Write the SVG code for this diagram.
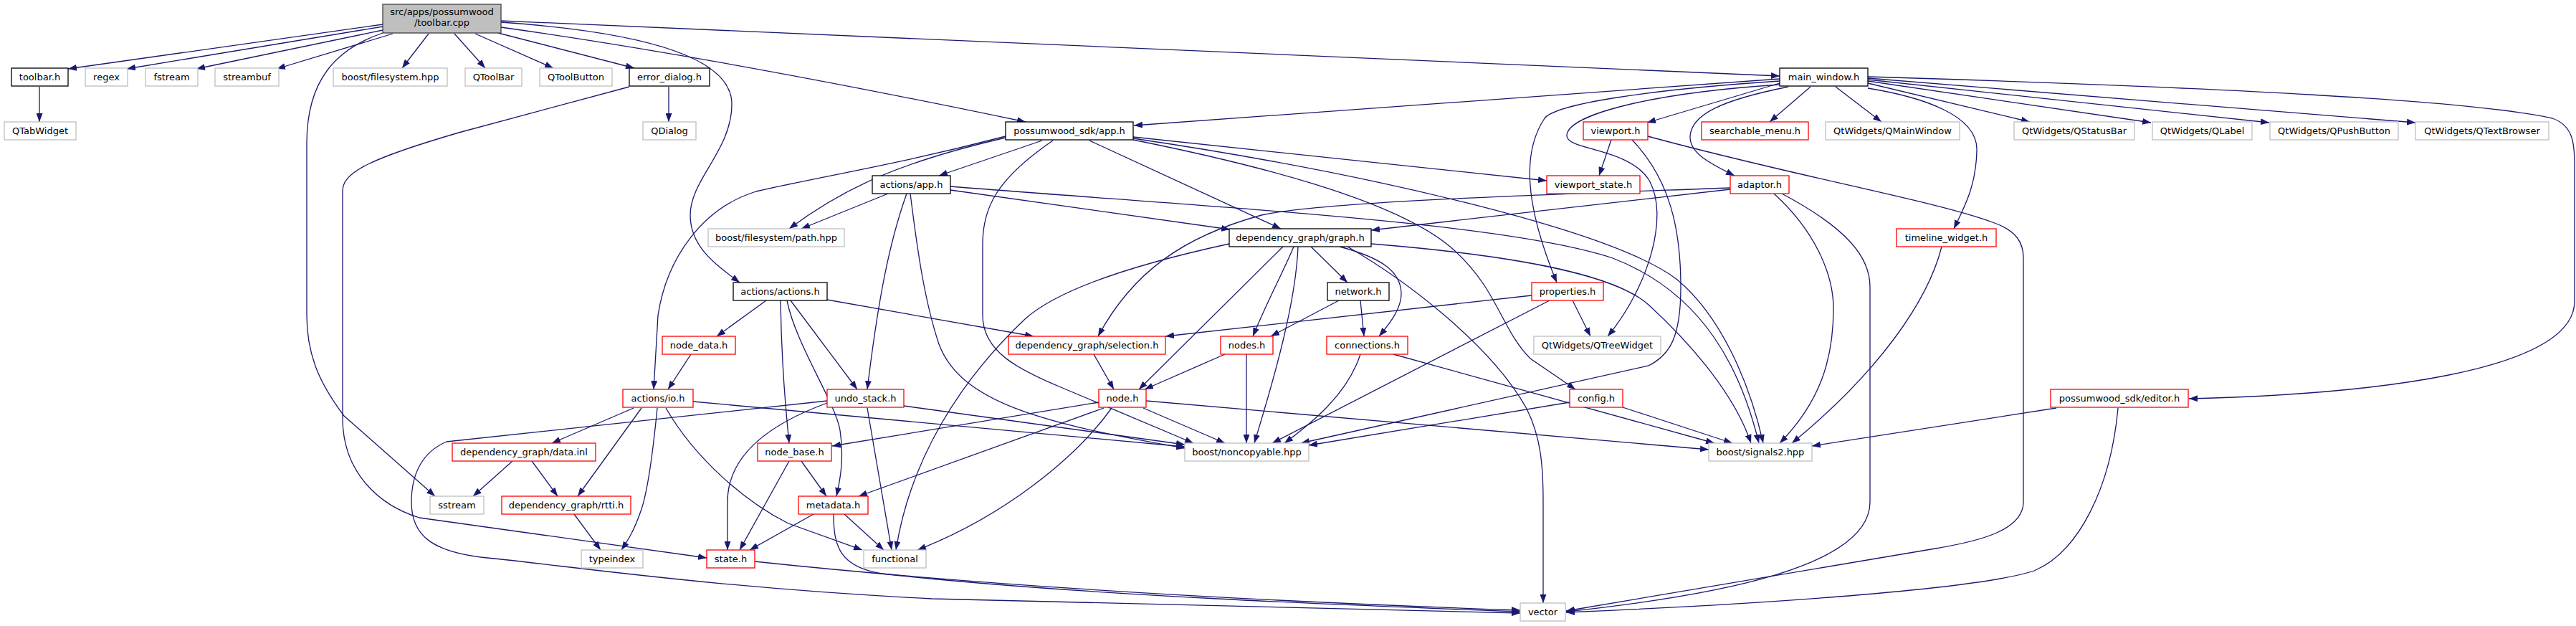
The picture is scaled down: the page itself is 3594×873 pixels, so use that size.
<svg xmlns="http://www.w3.org/2000/svg" width="3594" height="873" viewBox="0 0 3594 873">
<defs>
<marker id="a" markerUnits="userSpaceOnUse" markerWidth="12" markerHeight="9" refX="12" refY="4.5" orient="auto"><path d="M0,0 L12,4.5 L0,9 z" fill="#191970"/></marker>
<style>
rect{fill:#fff;stroke-width:1.3}
.b rect{stroke:#000}
.r rect{stroke:#ff0000}
.g rect{stroke:#bfbfbf}
.root rect{fill:#bfbfbf;stroke:#404040}
text{font-family:"DejaVu Sans","Liberation Sans",sans-serif;font-size:13px;text-anchor:middle;fill:#000}
#edges path{fill:none;stroke:#191970;stroke-width:1.3;marker-end:url(#a)}
</style>
</defs>
<rect x="0" y="0" width="3594" height="873" style="fill:#fff;stroke:none"/>
<g id="edges">
<path d="M534,34 L95,96"/>
<path d="M534,37 L177,96"/>
<path d="M534,42 L274,96"/>
<path d="M548,47 L386,96"/>
<path d="M598,47 L561,95"/>
<path d="M634,47 L677,95"/>
<path d="M663,47 L772,95"/>
<path d="M695,46 L885,95"/>
<path d="M699,29 L2483,106"/>
<path d="M699,38 Q1000,80 1431,170"/>
<path d="M699,31 C900,45 1021,80 1021,145 C1021,210 963,250 963,300 C963,345 1000,370 1032,394"/>
<path d="M534,46 C470,68 428,110 428,200 L428,440 C428,500 450,540 480,580 L607,692"/>
<path d="M55,121 L55,170"/>
<path d="M933,121 L933,170"/>
<path d="M878,121 L640,185 C520,220 478,240 478,265 L478,583 C478,660 530,705 585,722 L986,778"/>
<path d="M2483,110 L1582,175"/>
<path d="M2483,113 C2300,125 2170,145 2155,165 C2125,210 2125,280 2172,394"/>
<path d="M2483,116 L2298,171"/>
<path d="M2495,121 C2400,140 2360,160 2358,190 C2357,215 2390,230 2420,245"/>
<path d="M2526,121 L2469,170"/>
<path d="M2561,121 L2625,170"/>
<path d="M2606,116 L2832,170"/>
<path d="M2606,113 L3001,171"/>
<path d="M2606,111 L3166,171"/>
<path d="M2606,109 L3370,171"/>
<path d="M2606,123 C2680,135 2760,160 2758,210 C2757,260 2740,290 2726,319"/>
<path d="M2606,107 C3100,122 3450,140 3561,165 C3590,175 3592,200 3592,230 L3592,420 C3592,520 3300,550 3054,556"/>
<path d="M2483,118 C2300,130 2190,160 2186,188 C2183,210 2270,205 2300,250 C2330,300 2300,400 2243,469"/>
<path d="M1454,196 L1310,245"/>
<path d="M1403,192 C1260,225 1180,260 1101,319"/>
<path d="M1403,190 C1250,230 1150,245 1055,267 C980,290 930,360 918,440 L912,543"/>
<path d="M1469,196 C1390,250 1371,290 1371,340 L1371,440 C1371,490 1420,515 1480,540 L1665,618"/>
<path d="M1520,196 L1787,319"/>
<path d="M1581,191 L2158,252"/>
<path d="M1581,193 C1900,240 2250,320 2340,390 C2400,440 2440,530 2460,618"/>
<path d="M1581,195 C1780,235 1960,285 2030,350 C2090,405 2095,460 2135,500 L2198,543"/>
<path d="M1239,270 L1118,319"/>
<path d="M1265,270 C1240,340 1225,420 1210,543"/>
<path d="M1270,270 C1280,350 1290,420 1310,480 C1340,560 1450,590 1653,625"/>
<path d="M1326,260 C1700,290 2100,310 2250,360 C2380,410 2430,520 2454,618"/>
<path d="M1326,265 L1716,320"/>
<path d="M2248,195 L2231,245"/>
<path d="M2277,195 C2330,250 2345,320 2345,400 C2345,470 2330,495 2300,510 L1815,618"/>
<path d="M2299,190 C2500,245 2700,280 2780,310 C2815,322 2823,340 2823,360 L2823,700 C2823,740 2760,755 2700,765 L2185,852"/>
<path d="M2414,262 C2200,270 1850,280 1760,300 C1650,330 1580,380 1532,469"/>
<path d="M2414,264 L1913,321"/>
<path d="M2475,270 C2530,320 2558,380 2558,430 C2558,500 2540,560 2483,618"/>
<path d="M2486,270 C2580,320 2609,360 2609,400 L2609,700 C2609,790 2400,830 2185,853"/>
<path d="M1829,344 L1880,394"/>
<path d="M1805,344 C1790,380 1768,420 1748,469"/>
<path d="M1869,344 C1930,360 1955,380 1955,410 C1955,430 1940,450 1924,469"/>
<path d="M1790,344 L1589,543"/>
<path d="M1811,344 C1808,420 1780,520 1750,618"/>
<path d="M1913,340 C2100,355 2250,380 2300,425 C2360,480 2420,550 2443,618"/>
<path d="M1880,344 C1960,390 2080,480 2130,570 C2150,610 2153,650 2153,700 L2153,841"/>
<path d="M1715,340 C1600,365 1480,400 1430,445 C1340,530 1270,640 1250,767"/>
<path d="M2709,344 C2690,420 2620,520 2500,618"/>
<path d="M1069,419 L1000,469"/>
<path d="M1089,419 C1090,500 1095,560 1101,618"/>
<path d="M1098,419 C1110,480 1165,560 1172,600 C1178,640 1172,670 1167,692"/>
<path d="M1103,419 L1196,543"/>
<path d="M1154,418 L1442,469"/>
<path d="M1868,419 L1773,469"/>
<path d="M1898,419 L1903,469"/>
<path d="M2137,412 L1626,469"/>
<path d="M2194,419 L2219,469"/>
<path d="M2162,419 L1775,618"/>
<path d="M964,494 L932,543"/>
<path d="M1526,494 L1554,543"/>
<path d="M1709,494 L1597,543"/>
<path d="M1739,494 L1739,618"/>
<path d="M1898,494 C1880,550 1830,590 1792,618"/>
<path d="M1944,494 L2392,618"/>
<path d="M884,569 L770,618"/>
<path d="M895,569 L806,692"/>
<path d="M917,569 C912,620 905,680 895,710 C885,740 875,755 867,767"/>
<path d="M929,569 C970,640 1040,700 1100,730 L1203,767"/>
<path d="M967,560 L1653,623"/>
<path d="M1154,562 C1050,600 1015,650 1015,700 L1015,767"/>
<path d="M1210,569 L1244,767"/>
<path d="M1261,566 L1653,620"/>
<path d="M1154,559 L623,616 C590,630 574,660 574,700 C574,745 600,770 680,778 C800,790 1000,820 1300,835 L2121,855"/>
<path d="M1533,561 L1161,622"/>
<path d="M1540,569 L1198,692"/>
<path d="M1551,569 C1500,640 1400,720 1280,767"/>
<path d="M1595,569 L1709,618"/>
<path d="M1599,559 L2384,627"/>
<path d="M2190,561 L1826,621"/>
<path d="M2264,568 L2417,618"/>
<path d="M2869,569 L2528,622"/>
<path d="M2955,569 C2945,680 2900,770 2838,796 C2750,825 2400,845 2185,854"/>
<path d="M715,643 L660,692"/>
<path d="M742,643 L778,692"/>
<path d="M1118,643 L1153,692"/>
<path d="M1101,643 L1032,767"/>
<path d="M1135,717 L1046,767"/>
<path d="M1178,717 L1233,767"/>
<path d="M1163,717 C1163,760 1170,790 1230,800 C1500,830 1900,845 2121,853"/>
<path d="M801,717 L838,767"/>
<path d="M1053,783 C1400,820 1800,840 2121,851"/>
</g>
<g id="root" class="root"><rect x="534" y="6" width="165" height="40"/><text x="616.5" y="21">src/apps/possumwood</text><text x="616.5" y="36">/toolbar.cpp</text></g>
<g id="toolbar_h" class="b"><rect x="16" y="95" width="79" height="25"/><text x="55.5" y="112">toolbar.h</text></g>
<g id="regex" class="g"><rect x="119" y="95" width="59" height="25"/><text x="148.5" y="112">regex</text></g>
<g id="fstream" class="g"><rect x="203" y="95" width="73" height="25"/><text x="239.5" y="112">fstream</text></g>
<g id="streambuf" class="g"><rect x="300" y="95" width="89" height="25"/><text x="344.5" y="112">streambuf</text></g>
<g id="filesystem_hpp" class="g"><rect x="465" y="95" width="159" height="25"/><text x="544.5" y="112">boost/filesystem.hpp</text></g>
<g id="QToolBar" class="g"><rect x="649" y="95" width="79" height="25"/><text x="688.5" y="112">QToolBar</text></g>
<g id="QToolButton" class="g"><rect x="753" y="95" width="101" height="25"/><text x="803.5" y="112">QToolButton</text></g>
<g id="error_dialog_h" class="b"><rect x="878" y="95" width="112" height="25"/><text x="934" y="112">error_dialog.h</text></g>
<g id="main_window_h" class="b"><rect x="2483" y="95" width="123" height="25"/><text x="2544.5" y="112">main_window.h</text></g>
<g id="QTabWidget" class="g"><rect x="6" y="170" width="100" height="25"/><text x="56" y="187">QTabWidget</text></g>
<g id="QDialog" class="g"><rect x="897" y="170" width="74" height="25"/><text x="934" y="187">QDialog</text></g>
<g id="sdk_app_h" class="b"><rect x="1403" y="170" width="178" height="25"/><text x="1492" y="187">possumwood_sdk/app.h</text></g>
<g id="viewport_h" class="r"><rect x="2209" y="170" width="90" height="25"/><text x="2254" y="187">viewport.h</text></g>
<g id="searchable_menu_h" class="r"><rect x="2374" y="170" width="149" height="25"/><text x="2448.5" y="187">searchable_menu.h</text></g>
<g id="QMainWindow" class="g"><rect x="2547" y="170" width="187" height="25"/><text x="2640.5" y="187">QtWidgets/QMainWindow</text></g>
<g id="QStatusBar" class="g"><rect x="2810" y="170" width="168" height="25"/><text x="2894" y="187">QtWidgets/QStatusBar</text></g>
<g id="QLabel" class="g"><rect x="3003" y="170" width="139" height="25"/><text x="3072.5" y="187">QtWidgets/QLabel</text></g>
<g id="QPushButton" class="g"><rect x="3167" y="170" width="179" height="25"/><text x="3256.5" y="187">QtWidgets/QPushButton</text></g>
<g id="QTextBrowser" class="g"><rect x="3370" y="170" width="186" height="25"/><text x="3463" y="187">QtWidgets/QTextBrowser</text></g>
<g id="actions_app_h" class="b"><rect x="1217" y="245" width="109" height="25"/><text x="1271.5" y="262">actions/app.h</text></g>
<g id="viewport_state_h" class="r"><rect x="2158" y="245" width="130" height="25"/><text x="2223" y="262">viewport_state.h</text></g>
<g id="adaptor_h" class="r"><rect x="2414" y="245" width="82" height="25"/><text x="2455" y="262">adaptor.h</text></g>
<g id="path_hpp" class="g"><rect x="988" y="319" width="190" height="25"/><text x="1083" y="336">boost/filesystem/path.hpp</text></g>
<g id="graph_h" class="b"><rect x="1715" y="319" width="198" height="25"/><text x="1814" y="336">dependency_graph/graph.h</text></g>
<g id="timeline_widget_h" class="r"><rect x="2646" y="319" width="139" height="25"/><text x="2715.5" y="336">timeline_widget.h</text></g>
<g id="actions_h" class="b"><rect x="1023" y="394" width="131" height="25"/><text x="1088.5" y="411">actions/actions.h</text></g>
<g id="network_h" class="b"><rect x="1852" y="394" width="86" height="25"/><text x="1895" y="411">network.h</text></g>
<g id="properties_h" class="r"><rect x="2137" y="394" width="100" height="25"/><text x="2187" y="411">properties.h</text></g>
<g id="node_data_h" class="r"><rect x="924" y="469" width="102" height="25"/><text x="975" y="486">node_data.h</text></g>
<g id="selection_h" class="r"><rect x="1407" y="469" width="219" height="25"/><text x="1516.5" y="486">dependency_graph/selection.h</text></g>
<g id="nodes_h" class="r"><rect x="1703" y="469" width="73" height="25"/><text x="1739.5" y="486">nodes.h</text></g>
<g id="connections_h" class="r"><rect x="1851" y="469" width="113" height="25"/><text x="1907.5" y="486">connections.h</text></g>
<g id="QTreeWidget" class="g"><rect x="2140" y="469" width="177" height="25"/><text x="2228.5" y="486">QtWidgets/QTreeWidget</text></g>
<g id="io_h" class="r"><rect x="869" y="543" width="98" height="25"/><text x="918" y="560">actions/io.h</text></g>
<g id="undo_stack_h" class="r"><rect x="1154" y="543" width="107" height="25"/><text x="1207.5" y="560">undo_stack.h</text></g>
<g id="node_h" class="r"><rect x="1533" y="543" width="66" height="25"/><text x="1566" y="560">node.h</text></g>
<g id="config_h" class="r"><rect x="2190" y="543" width="74" height="25"/><text x="2227" y="560">config.h</text></g>
<g id="editor_h" class="r"><rect x="2861" y="543" width="192" height="25"/><text x="2957" y="560">possumwood_sdk/editor.h</text></g>
<g id="data_inl" class="r"><rect x="631" y="618" width="200" height="25"/><text x="731" y="635">dependency_graph/data.inl</text></g>
<g id="node_base_h" class="r"><rect x="1057" y="618" width="103" height="25"/><text x="1108.5" y="635">node_base.h</text></g>
<g id="noncopyable" class="g"><rect x="1653" y="618" width="173" height="25"/><text x="1739.5" y="635">boost/noncopyable.hpp</text></g>
<g id="signals2" class="g"><rect x="2384" y="618" width="144" height="25"/><text x="2456" y="635">boost/signals2.hpp</text></g>
<g id="sstream" class="g"><rect x="600" y="692" width="75" height="25"/><text x="637.5" y="709">sstream</text></g>
<g id="rtti_h" class="r"><rect x="700" y="692" width="180" height="25"/><text x="790" y="709">dependency_graph/rtti.h</text></g>
<g id="metadata_h" class="r"><rect x="1114" y="692" width="97" height="25"/><text x="1162.5" y="709">metadata.h</text></g>
<g id="typeindex" class="g"><rect x="811" y="767" width="86" height="25"/><text x="854" y="784">typeindex</text></g>
<g id="state_h" class="r"><rect x="986" y="767" width="67" height="25"/><text x="1019.5" y="784">state.h</text></g>
<g id="functional" class="g"><rect x="1205" y="767" width="87" height="25"/><text x="1248.5" y="784">functional</text></g>
<g id="vector" class="g"><rect x="2121" y="841" width="63" height="25"/><text x="2152.5" y="858">vector</text></g>
</svg>
